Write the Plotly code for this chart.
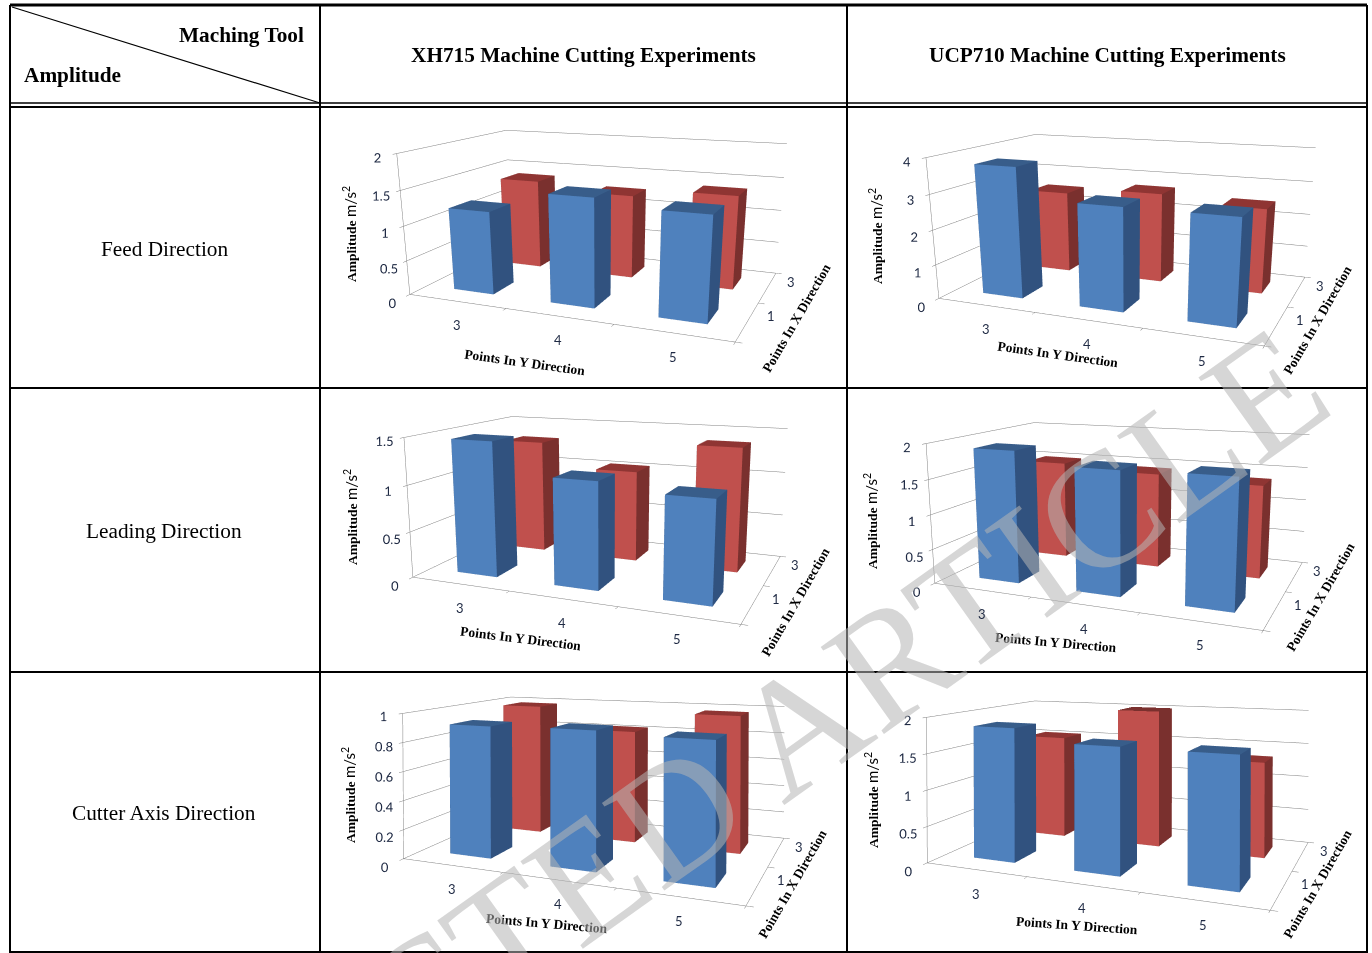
import math
import plotly.graph_objects as go

W, H = 1372, 953

# ---- data -------------------------------------------------------
y_points = ["3", "4", "5"]
x_points = ["1", "3"]

feed_xh_row1 = [1.2, 1.52, 1.43]
feed_xh_row3 = [1.37, 1.26, 1.38]
feed_ucp_row1 = [3.75, 2.9, 2.9]
feed_ucp_row3 = [2.5, 2.7, 2.5]
lead_xh_row1 = [1.46, 1.13, 1.05]
lead_xh_row3 = [1.3, 1.03, 1.37]
lead_ucp_row1 = [1.9, 1.73, 1.75]
lead_ucp_row3 = [1.5, 1.43, 1.37]
axis_xh_row1 = [0.91, 0.92, 0.9]
axis_xh_row3 = [0.98, 0.82, 0.97]
axis_ucp_row1 = [1.85, 1.68, 1.67]
axis_ucp_row3 = [1.53, 2.1, 1.34]

z_max_feed_xh, z_step_feed_xh = 2, 0.5
z_max_feed_ucp, z_step_feed_ucp = 4, 1
z_max_lead_xh, z_step_lead_xh = 1.5, 0.5
z_max_lead_ucp, z_step_lead_ucp = 2, 0.5
z_max_axis_xh, z_step_axis_xh = 1, 0.2
z_max_axis_ucp, z_step_axis_ucp = 2, 0.5

row_names = ["Feed Direction", "Leading Direction", "Cutter Axis Direction"]
col_names = ["XH715 Machine Cutting Experiments", "UCP710 Machine Cutting Experiments"]

# ---- styles -----------------------------------------------------
BLUE = ["#4F81BD", "#31527F", "#385D8A"]
RED = ["#C0504D", "#7A302E", "#8F3533"]
SERIF = "Liberation Serif"
SANS = "Lato"
TICK = "#1F2A44"

col_x = [10, 320, 847, 1367]
row_y = [5, 105, 388, 672, 952]

ASPECT = dict(x=2.35, y=1.5, z=1.0)
DOM_H = 600
DIST, AZ = 5.3, math.radians(22)
ROW_EL = [math.radians(13), math.radians(12.5), math.radians(11)]


def px(x):
    return x / W


def py(y):
    return 1 - y / H


def cuboid(cx, cy, top, colors, bw=0.42, bd=0.4):
    x0, x1 = cx - bw / 2, cx + bw / 2
    y0, y1 = cy - bd / 2, cy + bd / 2
    xs = [x0, x1, x1, x0, x0, x1, x1, x0]
    ys = [y0, y0, y1, y1, y0, y0, y1, y1]
    zs = [0, 0, 0, 0, top, top, top, top]
    i = [0, 0, 1, 1, 4, 4, 2, 2, 3, 3, 0, 0]
    j = [1, 5, 2, 6, 5, 6, 3, 7, 0, 4, 1, 2]
    k = [5, 4, 6, 5, 6, 7, 7, 6, 4, 7, 2, 3]
    fc = [colors[0]] * 2 + [colors[1]] * 2 + [colors[2]] * 2 + [colors[1]] * 6
    return go.Mesh3d(x=xs, y=ys, z=zs, i=i, j=j, k=k, facecolor=fc, flatshading=True,
                     lighting=dict(ambient=1, diffuse=0, specular=0, fresnel=0, roughness=1),
                     hoverinfo="skip", showscale=False)


def camera(dom_cy, ty, el):
    """The view is tilted so the box lands at screen height ty."""
    eye = [DIST * math.cos(el) * math.sin(AZ), -DIST * math.cos(el) * math.cos(AZ), DIST * math.sin(el)]
    v = [-e / DIST for e in eye]
    u = [-math.sin(el) * math.sin(AZ), math.sin(el) * math.cos(AZ), math.cos(el)]
    a = math.atan((ty - dom_cy) / (1.207 * DOM_H))
    d = [math.cos(a) * v[k] + math.sin(a) * u[k] for k in range(3)]
    c = [eye[k] + DIST * d[k] for k in range(3)]
    return dict(eye=dict(x=eye[0], y=eye[1], z=eye[2]), center=dict(x=c[0], y=c[1], z=c[2]),
                up=dict(x=0, y=0, z=1), projection=dict(type="perspective"))


fig = go.Figure()
# empty helper trace: gives the full-page text layer a pixel-like axis pair
fig.add_trace(go.Scatter(x=[None], y=[None], xaxis="x", yaxis="y", hoverinfo="skip"))

charts = [
    ("scene", 0, feed_xh_row1, feed_xh_row3, z_max_feed_xh, z_step_feed_xh, (601, 218)),
    ("scene2", 0, feed_ucp_row1, feed_ucp_row3, z_max_feed_ucp, z_step_feed_ucp, (1130, 222)),
    ("scene3", 1, lead_xh_row1, lead_xh_row3, z_max_lead_xh, z_step_lead_xh, (605, 501)),
    ("scene4", 1, lead_ucp_row1, lead_ucp_row3, z_max_lead_ucp, z_step_lead_ucp, (1127, 507)),
    ("scene5", 2, axis_xh_row1, axis_xh_row3, z_max_axis_xh, z_step_axis_xh, (603, 779)),
    ("scene6", 2, axis_ucp_row1, axis_ucp_row3, z_max_axis_ucp, z_step_axis_ucp, (1127, 783)),
]
dom_tops = [0, 210, 353]

layout_extra = {}
for name, r, front, back, zmax, zstep, target in charts:
    for n, (v_f, v_b) in enumerate(zip(front, back)):
        t = cuboid(n + 0.5, 0.5, v_f, BLUE)
        t.scene = name
        fig.add_trace(t)
        t = cuboid(n + 0.5, 1.5, v_b, RED)
        t.scene = name
        fig.add_trace(t)
    n_steps = int(round(zmax / zstep))
    zt = [round(i * zstep, 2) for i in range(n_steps + 1)]
    common = dict(showbackground=True, backgroundcolor="white", showspikes=False,
                  zeroline=False, title=dict(text=""), tickfont=dict(family=SANS, size=12.5, color=TICK),
                  tickangle=0, showline=True, linecolor="#808080", linewidth=1, gridcolor="#808080", gridwidth=1,
                  ticks="outside", ticklen=5, tickcolor="#808080")
    top = dom_tops[r]
    scene_ann = []
    for n, lab in enumerate(y_points):
        scene_ann.append(dict(x=n + 0.5, y=0, z=0, text=lab, showarrow=False, yshift=-24,
                              font=dict(family=SANS, size=13, color=TICK)))
    for n, lab in enumerate(x_points):
        scene_ann.append(dict(x=3, y=n + 0.5, z=0, text=lab, showarrow=False, xshift=23, yshift=5,
                              font=dict(family=SANS, size=13, color=TICK)))
    cx = target[0]
    layout_extra[name] = dict(
        domain=dict(x=[px(cx - 240), px(cx + 240)], y=[py(top + DOM_H), py(top)]),
        xaxis=dict(common, range=[0, 3], tickvals=[0, 1, 2, 3], ticktext=[" "] * 4, showgrid=False),
        yaxis=dict(common, range=[0, 2], tickvals=[0, 1, 2], ticktext=[" "] * 3, showgrid=False),
        zaxis=dict(common, range=[0, zmax], tickvals=zt, ticktext=[f"{v:g}" for v in zt], showgrid=True),
        aspectmode="manual", aspectratio=ASPECT,
        camera=camera(top + DOM_H / 2, target[1], ROW_EL[r]),
        annotations=scene_ann,
        bgcolor="rgba(0,0,0,0)",
    )

# ---- table rules --------------------------------------------------
shapes = []


def rule(x0, y0, x1, y1, w):
    shapes.append(dict(type="line", xref="paper", yref="paper", x0=px(x0), y0=py(y0), x1=px(x1), y1=py(y1),
                       line=dict(color="black", width=w), layer="above"))


rule(col_x[0], 5, col_x[3], 5, 3)
rule(col_x[0], 103, col_x[3], 103, 1.5)
rule(col_x[0], 107, col_x[3], 107, 2)
for yy in row_y[2:4]:
    rule(col_x[0], yy, col_x[3], yy, 2)
rule(col_x[0], 952, col_x[3], 952, 2)
rule(col_x[0], 5, col_x[0], 953, 2)
rule(col_x[1], 5, col_x[1], 953, 2)
rule(col_x[2], 5, col_x[2], 953, 2)
rule(col_x[3], 5, col_x[3], 953, 2)
rule(12, 7, 320, 103, 1.2)

# ---- text ----------------------------------------------------------
ann = []


def label(x, y, text, size=21.3, family=SERIF, angle=0, color="black", xanchor="center"):
    ann.append(dict(xref="paper", yref="paper", x=px(x), y=py(y), text=text, showarrow=False, textangle=angle,
                    font=dict(family=family, size=size, color=color), xanchor=xanchor, yanchor="middle"))


label(306, 35, "<b>Maching Tool</b>", xanchor="right")
label(22, 75, "<b>Amplitude</b>", xanchor="left")
label(583, 55, f"<b>{col_names[0]}</b>")
label(1107, 55, f"<b>{col_names[1]}</b>")
for nm, yy in zip(row_names, [249, 531, 813]):
    label(164, yy, nm)

amp = "<b>Amplitude</b> <span style='font-family:Lato;font-size:15px'>m/s<sup>2</sup></span>"
for (ax, ay), (yx, yy, ya), (xx, xy) in [
    ((349, 234), (525, 362, 8), (796, 318)),
    ((875, 236), (1058, 355, 8), (1317, 320)),
    ((350, 517), (521, 638, 7), (795, 602)),
    ((870, 521), (1056, 642, 5), (1320, 597)),
    ((348, 795), (547, 923, 5), (792, 884)),
    ((871, 800), (1077, 925, 4), (1317, 884)),
]:
    label(ax, ay, amp, size=13.5, angle=-90)
    label(yx, yy, "<b>Points In Y Direction</b>", size=13.5, angle=ya)
    label(xx, xy, "<b>Points In X Direction</b>", size=13.5, angle=-60)

ann.append(dict(xref="x", yref="y", x=622, y=852, text="RETRACTED ARTICLE", showarrow=False,
                textangle=-35.5, font=dict(family=SERIF, size=164, color="rgba(180,180,180,0.55)")))

fig.update_layout(width=W, height=H, margin=dict(l=0, r=0, t=0, b=0), paper_bgcolor="white",
                  plot_bgcolor="rgba(0,0,0,0)", showlegend=False,
                  xaxis=dict(visible=False, range=[0, W], domain=[0, 1]),
                  yaxis=dict(visible=False, range=[H, 0], domain=[0, 1]),
                  shapes=shapes, annotations=ann, **layout_extra)

fig.write_html("out.html", post_script="document.body.style.margin='0';", config=dict(displayModeBar=False))
